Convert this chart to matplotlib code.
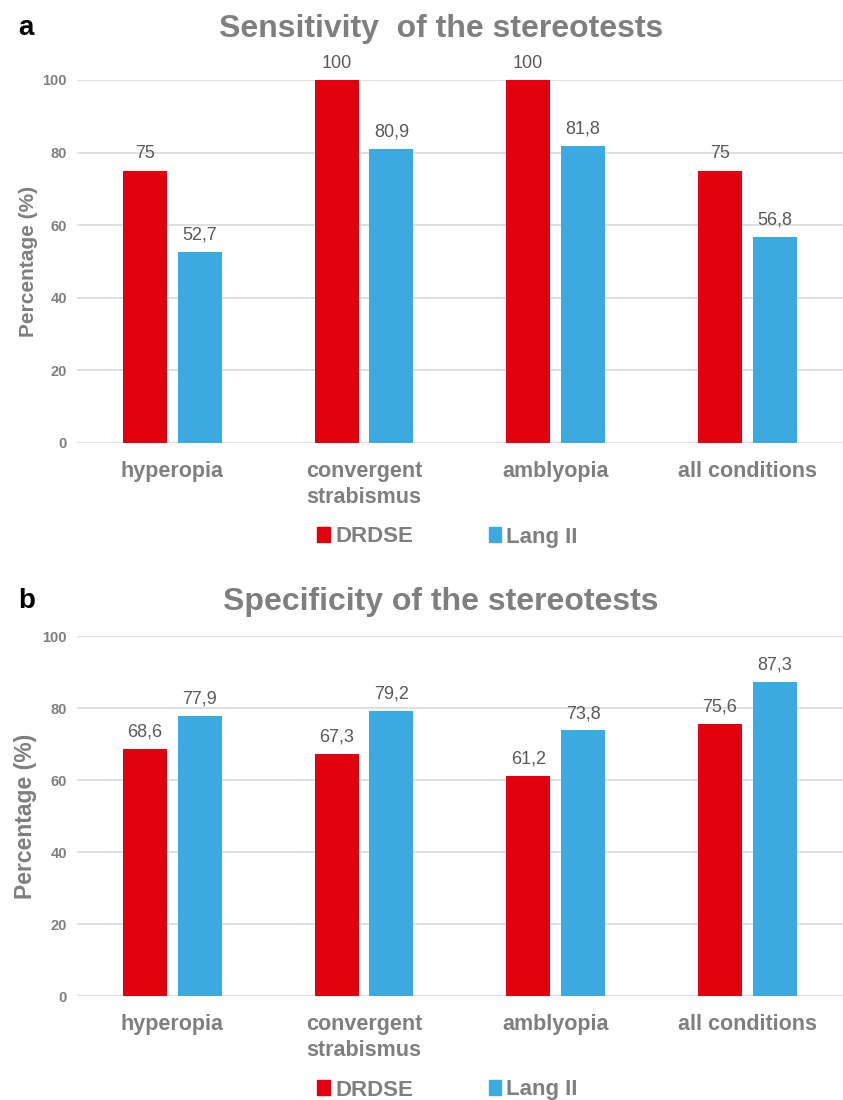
import numpy as np
import matplotlib.pyplot as plt
from matplotlib.patches import Patch

categories = ['hyperopia', 'convergent\nstrabismus', 'amblyopia', 'all conditions']
series_names = ['DRDSE', 'Lang II']
sensitivity_drdse = [75, 100, 100, 75]
sensitivity_lang = [52.7, 80.9, 81.8, 56.8]
specificity_drdse = [68.6, 67.3, 61.2, 75.6]
specificity_lang = [77.9, 79.2, 73.8, 87.3]
yticks = [0, 20, 40, 60, 80, 100]

RED = '#E2000F'
BLUE = '#3AAAE0'
GRAY = '#7F7F7F'

plt.rcParams['font.family'] = ['Liberation Sans', 'DejaVu Sans']


def fmt(v):
    s = f'{v:g}'
    return s.replace('.', ',')


def draw_panel(fig, rect, drdse, lang, title, letter, ylabel_size, ylabel_pad, title_gap):
    ax = fig.add_axes(rect)
    x = np.arange(len(categories))
    w = 0.23
    off = 0.143
    b1 = ax.bar(x - off, drdse, w, color=RED, zorder=3)
    b2 = ax.bar(x + off, lang, w, color=BLUE, zorder=3)
    for bars, vals in ((b1, drdse), (b2, lang)):
        for r, v in zip(bars, vals):
            ax.annotate(fmt(v), (r.get_x() + r.get_width() / 2, v),
                        xytext=(0, 6), textcoords='offset points',
                        ha='center', va='bottom', fontsize=13, color='#595959')
    ax.set_xlim(-0.5, 3.5)
    ax.set_ylim(0, 100)
    ax.set_yticks(yticks)
    ax.set_yticklabels([str(t) for t in yticks], fontsize=10.5, fontweight='bold',
                       color=GRAY)
    ax.set_xticks(x)
    ax.set_xticklabels(categories, fontsize=15.5, fontweight='bold', color=GRAY,
                       va='top', linespacing=1.3)
    ax.tick_params(axis='both', length=0)
    ax.tick_params(axis='x', pad=13)
    ax.tick_params(axis='y', pad=7)
    ax.grid(axis='y', color='#D9D9D9', linewidth=1.2, zorder=0)
    for s in ax.spines.values():
        s.set_visible(False)
    ax.set_ylabel('Percentage (%)', fontsize=ylabel_size, fontweight='bold',
                  color=GRAY, labelpad=ylabel_pad)
    top = rect[1] + rect[3]
    fig.text(0.523, top + title_gap, title, ha='center', va='center', fontsize=23,
             fontweight='bold', color=GRAY)
    fig.text(0.022, top + title_gap + 0.001, letter, ha='left', va='center',
             fontsize=20, fontweight='bold', color='black')
    return ax


fig = plt.figure(figsize=(8.43, 11), dpi=100)

draw_panel(fig, [0.091, 0.5973, 0.909, 0.33], sensitivity_drdse, sensitivity_lang,
           'Sensitivity  of the stereotests', 'a', 15, 3, 0.0465)
draw_panel(fig, [0.091, 0.0945, 0.909, 0.3273], specificity_drdse, specificity_lang,
           'Specificity of the stereotests', 'b', 16.5, 4, 0.0305)

handles = [Patch(color=RED), Patch(color=BLUE)]
for ypos in (1 - 537 / 1100, 1 - 1090 / 1100):
    fig.legend(handles, series_names, loc='center', bbox_to_anchor=(0.531, ypos),
               ncol=2, frameon=False, handlelength=0.55, handleheight=0.65,
               handletextpad=0.25, columnspacing=3.4,
               prop={'weight': 'bold', 'size': 16},
               labelcolor=GRAY)

fig.savefig('out.png', dpi=100)
